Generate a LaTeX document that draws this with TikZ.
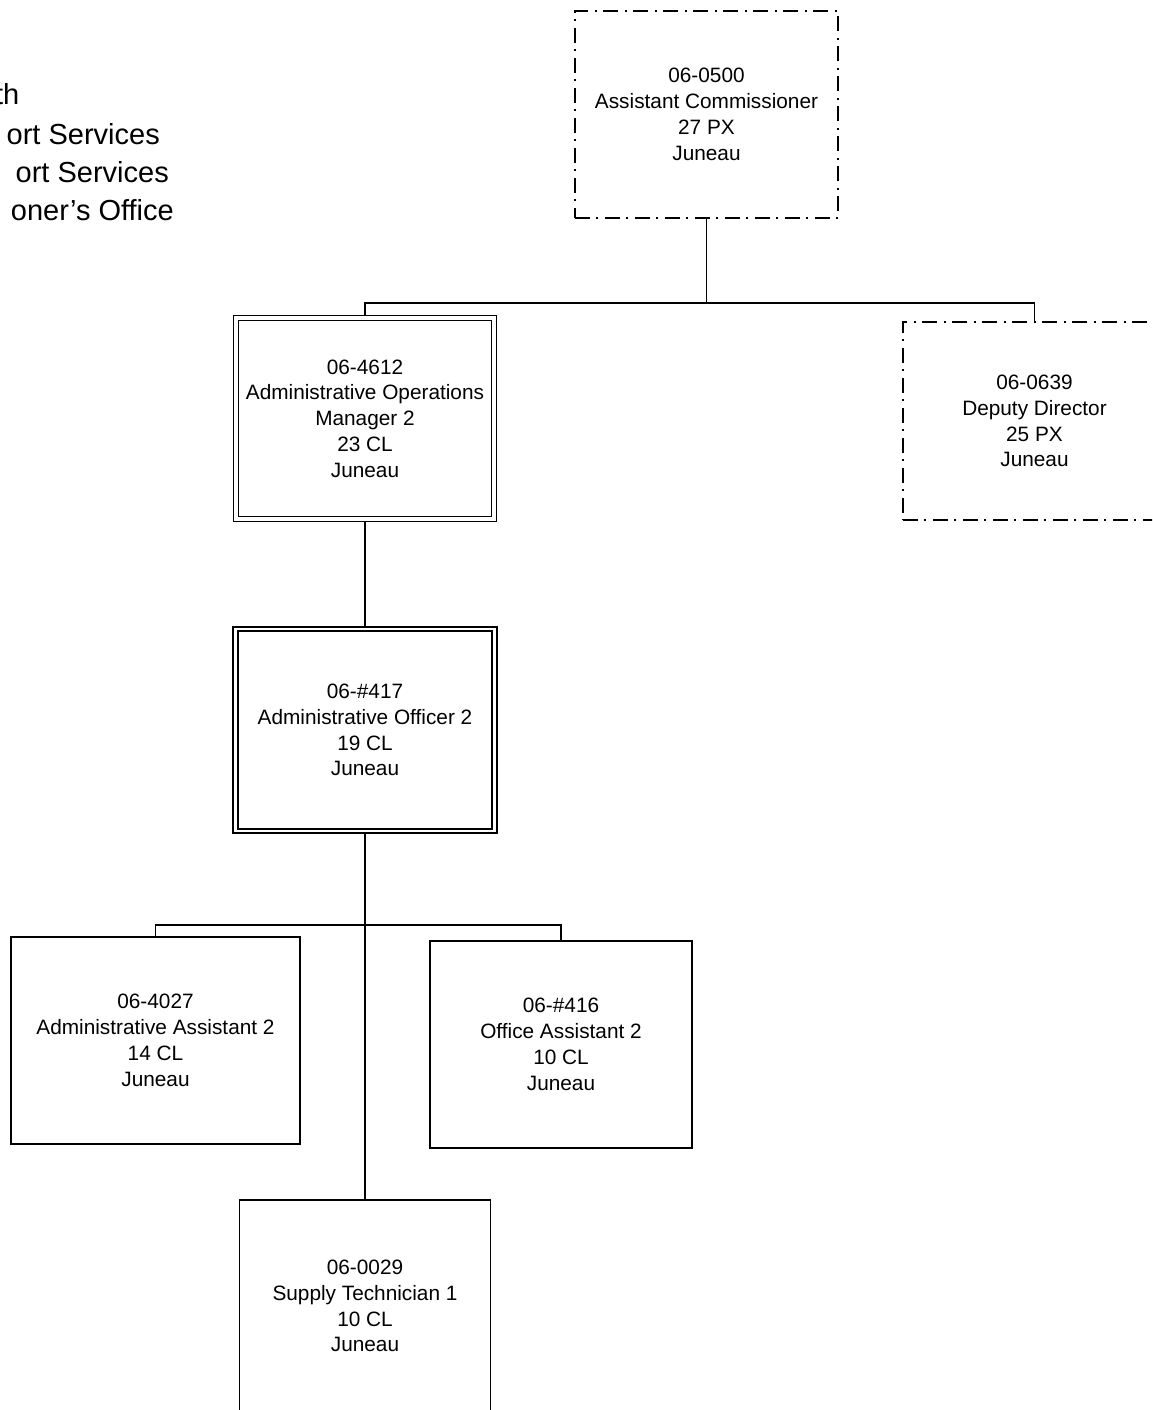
\documentclass[tikz,border=0pt]{standalone}
\usepackage{fontspec}
\setmainfont{Liberation Sans}
\begin{document}
\begin{tikzpicture}[x=1pt,y=-1pt,
  boxtext/.style={align=center,font=\fontsize{20.8}{25.8}\selectfont,inner sep=0pt},
  plainbox/.style={boxtext,draw,line width=1.4pt,rectangle},
  dashbox/.style={boxtext,draw,line width=1.3pt,rectangle,dash pattern=on 15pt off 6pt on 2pt off 7pt},
  dblthin/.style={boxtext,draw,rectangle,line width=1.2pt,double=white,double distance=3.6pt,outer sep=3pt},
  dblthick/.style={boxtext,draw,rectangle,line width=1.8pt,double=white,double distance=2.6pt,outer sep=3.1pt},
  conn/.style={line width=1.4pt},
  hdr/.style={font=\fontsize{29}{38}\selectfont,inner sep=0pt,anchor=base east}]
\useasboundingbox (0,0) rectangle (1152,1410);
\fill[white] (0,0) rectangle (1152,1410);
\clip (0,0) rectangle (1152,1410);

% header text (clipped at the left edge)
\node[hdr] (h1) at (19.5,105) {th};
\node[hdr] (h2) at (160,144) {ort Services};
\node[hdr] (h3) at (169,182) {ort Services};
\node[hdr] (h4) at (174,220.5) {oner’s Office};

% boxes
\node[dashbox,minimum width=263pt,minimum height=207pt] (ac) at (706.5,114.5)
  {06-0500\\Assistant Commissioner\\27 PX\\Juneau};
\node[dashbox,minimum width=263pt,minimum height=198pt] (dd) at (1034.5,421)
  {06-0639\\Deputy Director\\25 PX\\Juneau};
\node[dblthin,minimum width=258pt,minimum height=201pt] (aom) at (365,418.5)
  {06-4612\\Administrative Operations\\Manager 2\\23 CL\\Juneau};
\node[dblthick,minimum width=259pt,minimum height=202pt] (ao2) at (365,730)
  {06-\#417\\Administrative Officer 2\\19 CL\\Juneau};
\node[plainbox,minimum width=289pt,minimum height=207pt] (aa2) at (155.5,1040.5)
  {06-4027\\Administrative Assistant 2\\14 CL\\Juneau};
\node[plainbox,minimum width=262pt,minimum height=207pt] (oa2) at (561,1044.5)
  {06-\#416\\Office Assistant 2\\10 CL\\Juneau};
\node[plainbox,minimum width=251pt,minimum height=212pt] (st1) at (365,1306)
  {06-0029\\Supply Technician 1\\10 CL\\Juneau};

% connectors
\coordinate (bus1) at (706.5,303);
\coordinate (bus2) at (365,925);
\draw[conn] (ac.south) -- (bus1);
\draw[conn] (aom.north) |- (bus1) -| (dd.north);
\draw[conn] (aom.south) -- (ao2.north);
\draw[conn] (ao2.south) -- (st1.north);
\draw[conn] (aa2.north) |- (bus2) -| (oa2.north);
\end{tikzpicture}
\end{document}
